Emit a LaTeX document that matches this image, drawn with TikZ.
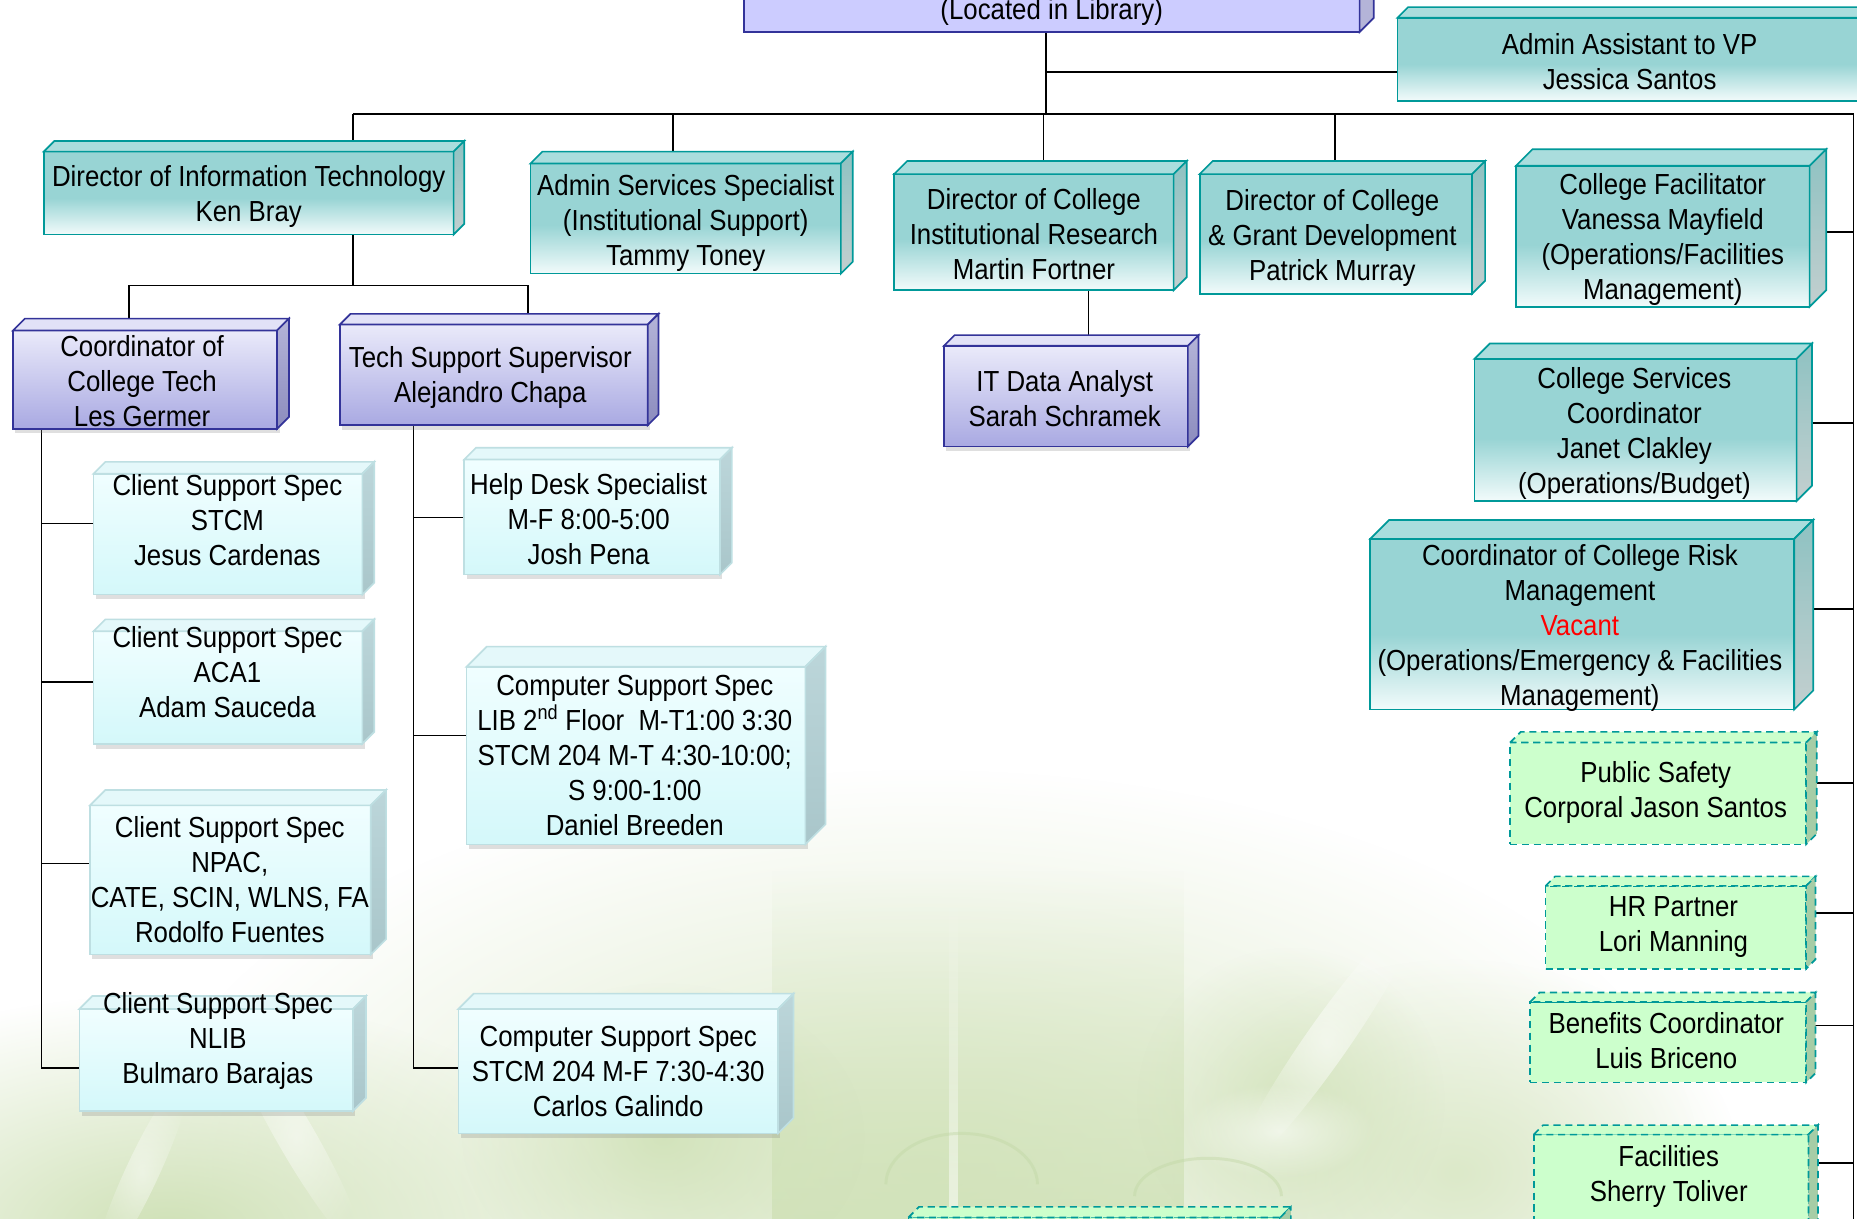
\documentclass[tikz,border=0pt]{standalone}
\usepackage{fontspec}
\setmainfont[FakeStretch=0.89]{Liberation Sans}
\usetikzlibrary{shadows,fadings}

\definecolor{navyline}{HTML}{333399}
\definecolor{lavtop}{HTML}{EAEAFA}
\definecolor{lavbot}{HTML}{A9A9E2}
\definecolor{lavface}{HTML}{E2E2F7}
\definecolor{lavsidetop}{HTML}{B4B4D8}
\definecolor{lavsidebot}{HTML}{8C8CBE}
\definecolor{lavsolid}{HTML}{CCCCFF}
\definecolor{tealline}{HTML}{009999}
\definecolor{tealmid}{HTML}{98D4D4}
\definecolor{teallow}{HTML}{F2FBFB}
\definecolor{tealface}{HTML}{AADDDD}
\definecolor{tealsidetop}{HTML}{8EC2C2}
\definecolor{tealsidebot}{HTML}{C3CFCF}
\definecolor{iceline}{HTML}{BEDFE2}
\definecolor{icetop}{HTML}{F0FEFF}
\definecolor{icebot}{HTML}{D4F8FA}
\definecolor{iceface}{HTML}{E4F8FA}
\definecolor{icesidetop}{HTML}{BCD6DA}
\definecolor{icesidebot}{HTML}{A9C6CA}
\definecolor{mintfill}{HTML}{CCFFCC}
\definecolor{mintside}{HTML}{A6CDA6}
\definecolor{wmlight}{HTML}{DCE9C9}
\definecolor{wmmid}{HTML}{CFE1B6}
\definecolor{wmdark}{HTML}{C2D8A6}

\pgfdeclareverticalshading{tealfade}{100bp}{color(0bp)=(teallow); color(25bp)=(teallow); color(47bp)=(tealmid); color(100bp)=(tealmid)}
\tikzfading[name=softblob, inner color=transparent!0, outer color=transparent!100]
\tikzfading[name=risefade, top color=transparent!100, bottom color=transparent!0]

\pgfdeclarelayer{wash}
\pgfdeclarelayer{links}
\pgfsetlayers{wash,links,main}

\tikzset{
  conn/.style={draw=black, line width=1.4pt},
  boxbase/.style={anchor=north west, inner sep=0pt, outer sep=0pt, line width=1.4pt},
  lav/.style={boxbase, draw=navyline, top color=lavtop, bottom color=lavbot,
    drop shadow={shadow xshift=2pt, shadow yshift=-4pt, opacity=.25}},
  lav top/.style={draw=navyline, fill=lavface, line width=1.4pt},
  lav side/.style={draw=navyline, top color=lavsidetop, bottom color=lavsidebot, line width=1.4pt},
  lavflat/.style={boxbase, draw=navyline, fill=lavsolid},
  lavflat top/.style={draw=navyline, fill=lavface, line width=1.4pt},
  lavflat side/.style={draw=navyline, fill=lavsidetop, line width=1.4pt},
  teal/.style={boxbase, draw=tealline, shade, shading=tealfade},
  teal top/.style={draw=tealline, fill=tealface, line width=1.4pt},
  teal side/.style={draw=tealline, top color=tealsidetop, bottom color=tealsidebot, line width=1.4pt},
  ice/.style={boxbase, draw=iceline, top color=icetop, bottom color=icebot,
    drop shadow={shadow xshift=2pt, shadow yshift=-4pt, opacity=.25}},
  ice top/.style={draw=iceline, fill=iceface, line width=1.4pt},
  ice side/.style={draw=iceline, top color=icesidetop, bottom color=icesidebot, line width=1.4pt},
  mint/.style={boxbase, draw=tealline, fill=mintfill, dash pattern=on 6pt off 4pt},
  mint top/.style={draw=tealline, fill=mintfill, dash pattern=on 6pt off 4pt, line width=1.4pt},
  mint side/.style={draw=tealline, fill=mintside, dash pattern=on 6pt off 4pt, line width=1.4pt},
  txt/.style={align=center, inner sep=0pt, font=\fontsize{24.5}{29.5}\selectfont},
  blob/.style={path fading=softblob},
}

% a box seen in perspective: style, name, left, top, right, bottom, depth
\newcommand\orgbox[7]{%
  \node[#1, minimum width={(#5)*1pt-(#3)*1pt}, minimum height={(#6)*1pt-(#4)*1pt}] (#2) at ({#3},{-(#4)}) {};
  \path[#1 top] (#2.north west) -- ++(#7,#7) -- ([shift={(#7,#7)}]#2.north east) -- (#2.north east) -- cycle;
  \path[#1 side] (#2.north east) -- ++(#7,#7) -- ([shift={(#7,#7)}]#2.south east) -- (#2.south east) -- cycle;
}

\begin{document}
\begin{tikzpicture}[x=1pt,y=1pt]
\useasboundingbox (0,0) rectangle (1568,-1029);

% faded campus photograph washed into the lower part
\begin{pgfonlayer}{wash}
  \fill[white] (0,0) rectangle (1568,-1029);
  \fill[wmlight, blob] (780,-990) ellipse (660 and 340);
  \fill[wmlight, blob] (1230,-990) ellipse (240 and 180);
  \fill[wmmid, blob] (140,-1040) ellipse (380 and 200);
  \fill[wmmid, path fading=risefade, fill opacity=.8] (652,-735) rectangle (1000,-1029);
  \fill[wmmid, blob, fill opacity=.85] (560,-960) ellipse (170 and 130);
  \fill[wmmid, blob, fill opacity=.75] (1090,-930) ellipse (130 and 130);
  \fill[white, path fading=risefade, fill opacity=.55] (801,-745) rectangle (809,-1029);
  \fill[white, blob, fill opacity=.6, rotate around={-35:(1120,-880)}] (1120,-880) ellipse (18 and 130);
  \fill[white, blob, fill opacity=.5, rotate around={30:(250,-960)}] (250,-960) ellipse (16 and 110);
  \fill[white, blob, fill opacity=.5, rotate around={-25:(120,-990)}] (120,-990) ellipse (14 and 90);
  \fill[white, blob, fill opacity=.6] (1080,-955) ellipse (80 and 40);
  \draw[wmdark, line width=2.5pt, opacity=.45] (748,-1000) arc[start angle=180, end angle=0, x radius=64, y radius=43];
  \draw[wmdark, line width=2.5pt, opacity=.45] (958,-1010) arc[start angle=180, end angle=0, x radius=62, y radius=32];
\end{pgfonlayer}

% boxes
\orgbox{lavflat}{vpbox}{628}{-73}{1148}{27}{12}
\node[txt] (vpbox-t) at (888,-10) {(Located in Library)};

\orgbox{teal}{admin}{1180}{15}{1600}{85}{9}
\node[txt] (admin-t) at (1376,-52) {Admin Assistant to VP\\Jessica Santos};

\orgbox{teal}{dirit}{37}{128}{383}{198}{9}
\node[txt] (dirit-t) at (210,-166) {Director of Information Technology\\Ken Bray};

\orgbox{teal}{adminsvc}{448}{138}{710}{231}{10}
\node[txt] (adminsvc-t) at (579,-188) {Admin Services Specialist\\(Institutional Support)\\Tammy Toney};

\orgbox{teal}{dirir}{755}{147}{991}{245}{11}
\node[txt] (dirir-t) at (873,-198) {Director of College\\Institutional Research\\Martin Fortner};

\orgbox{teal}{grant}{1013}{147}{1243}{248}{11}
\node[txt] (grant-t) at (1125,-201) {Director of College\\\& Grant Development\\Patrick Murray};

\orgbox{teal}{facil}{1280}{140}{1528}{259}{14}
\node[txt] (facil-t) at (1404,-202.5) {College Facilitator\\Vanessa Mayfield\\(Operations/Facilities\\Management)};

\orgbox{teal}{services}{1245}{303}{1517}{423}{13}
\node[txt] (services-t) at (1380,-366) {College Services\\Coordinator\\Janet Clakley\\(Operations/Budget)};

\orgbox{teal}{risk}{1157}{455}{1515}{599}{16}
\node[txt] (risk-t) at (1334,-530.5) {Coordinator of College Risk\\Management\\\textcolor{red}{Vacant}\\(Operations/Emergency \& Facilities\\Management)};

\orgbox{mint}{pubsafe}{1275}{627}{1525}{713}{9}
\node[txt] (pubsafe-t) at (1398,-669.5) {Public Safety\\Corporal Jason Santos};

\orgbox{mint}{hr}{1305}{748}{1525}{818}{8}
\node[txt] (hr-t) at (1413,-782.5) {HR Partner\\Lori Manning};

\orgbox{mint}{benefits}{1292}{846}{1525}{914}{8}
\node[txt] (benefits-t) at (1407,-878.5) {Benefits Coordinator\\Luis Briceno};

\orgbox{mint}{facilities}{1295}{958}{1527}{1045}{8}
\node[txt] (facilities-t) at (1409,-993.5) {Facilities\\Sherry Toliver};

\orgbox{mint}{lower}{767}{1028}{1081}{1100}{9}

\orgbox{lav}{coord}{11}{279}{234}{362}{10}
\node[txt] (coord-t) at (120,-322) {Coordinator of\\College Tech\\Les Germer};

\orgbox{lav}{techsup}{287}{274}{547}{359}{9}
\node[txt] (techsup-t) at (414,-319) {Tech Support Supervisor\\Alejandro Chapa};

\orgbox{lav}{itdata}{797}{292}{1003}{377}{9}
\node[txt] (itdata-t) at (899,-336.5) {IT Data Analyst\\Sarah Schramek};

\orgbox{ice}{cs1}{79}{400}{306}{502}{10}
\node[txt] (cs1-t) at (192,-439) {Client Support Spec\\STCM\\Jesus Cardenas};

\orgbox{ice}{cs2}{79}{533}{306}{628}{10}
\node[txt] (cs2-t) at (192,-567.5) {Client Support Spec\\ACA1\\Adam Sauceda};

\orgbox{ice}{cs3}{76}{680}{313}{806}{13}
\node[txt] (cs3-t) at (194,-743) {Client Support Spec\\NPAC,\\CATE, SCIN, WLNS, FA\\Rodolfo Fuentes};

\orgbox{ice}{cs4}{67}{852}{298}{938}{11}
\node[txt] (cs4-t) at (184,-879) {Client Support Spec\\NLIB\\Bulmaro Barajas};

\orgbox{ice}{help}{392}{388}{608}{485}{10}
\node[txt] (help-t) at (497,-438.5) {Help Desk Specialist\\M-F 8:00-5:00\\Josh Pena};

\orgbox{ice}{comp1}{394}{563}{680}{713}{17}
\node[txt] (comp1-t) at (536,-638) {Computer Support Spec\\LIB 2\textsuperscript{nd} Floor~~M-T1:00 3:30\\STCM 204 M-T 4:30-10:00;\\S 9:00-1:00\\Daniel Breeden};

\orgbox{ice}{comp2}{387}{852}{657}{957}{13}
\node[txt] (comp2-t) at (522,-904.5) {Computer Support Spec\\STCM 204 M-F 7:30-4:30\\Carlos Galindo};

% reporting lines
\begin{pgfonlayer}{links}
  \coordinate (bus-w) at (298,-96);
  \coordinate (bus-e) at (1565,-96);
  \coordinate (trunk-s) at (1565,-1045);
  \coordinate (vp-j) at (883,-96);
  \coordinate (adm-j) at (883,-61);
  \coordinate (svc-j) at (568,-96);
  \coordinate (ir-j) at (881,-96);
  \coordinate (gr-j) at (1127,-96);
  \draw[conn] (bus-w) -- (bus-e) -- (trunk-s);
  \draw[conn] (vpbox.south -| vp-j) -- (vp-j);
  \draw[conn] (adm-j) -- (adm-j -| admin.west);
  \draw[conn] (bus-w) -- (bus-w |- dirit.north);
  \draw[conn] (svc-j) -- (svc-j |- adminsvc.north);
  \draw[conn] (ir-j) -- (ir-j |- dirir.north);
  \draw[conn] (gr-j) -- (gr-j |- grant.north);

  \coordinate (it-j) at (298,-241);
  \coordinate (it-w) at (109,-241);
  \coordinate (it-e) at (446,-241);
  \draw[conn] (dirit.south -| it-j) -- (it-j);
  \draw[conn] (coord.north -| it-w) -- (it-w) -- (it-e) -- (techsup.north -| it-e);

  \coordinate (ir-x) at (919,0);
  \draw[conn] (dirir.south -| ir-x) -- (itdata.north -| ir-x);

  \coordinate (lt) at (35,-902);
  \draw[conn] (coord.south -| lt) -- (lt);
  \coordinate (cs1-in) at ([yshift=9pt]cs1.west);
  \coordinate (cs2-in) at ([yshift=4.5pt]cs2.west);
  \coordinate (cs3-in) at ([yshift=14pt]cs3.west);
  \coordinate (cs4-in) at ([yshift=-7pt]cs4.west);
  \foreach \c in {cs1-in,cs2-in,cs3-in,cs4-in} \draw[conn] (\c -| lt) -- (\c);

  \coordinate (mt) at (349,-902);
  \draw[conn] (techsup.south -| mt) -- (mt);
  \coordinate (help-in) at ([yshift=-0.5pt]help.west);
  \coordinate (comp1-in) at ([yshift=17pt]comp1.west);
  \coordinate (comp2-in) at ([yshift=2.5pt]comp2.west);
  \foreach \c in {help-in,comp1-in,comp2-in} \draw[conn] (\c -| mt) -- (\c);

  \coordinate (facil-out) at ([yshift=3.5pt]facil.east);
  \coordinate (services-out) at ([yshift=6pt]services.east);
  \coordinate (risk-out) at ([yshift=13pt]risk.east);
  \coordinate (pubsafe-out) at ([yshift=9pt]pubsafe.east);
  \coordinate (hr-out) at ([yshift=12pt]hr.east);
  \coordinate (benefits-out) at ([yshift=14pt]benefits.east);
  \coordinate (facilities-out) at ([yshift=19.5pt]facilities.east);
  \foreach \c in {facil-out,services-out,risk-out,pubsafe-out,hr-out,benefits-out,facilities-out}
    \draw[conn] (\c) -- (\c -| trunk-s);
\end{pgfonlayer}
\end{tikzpicture}
\end{document}
